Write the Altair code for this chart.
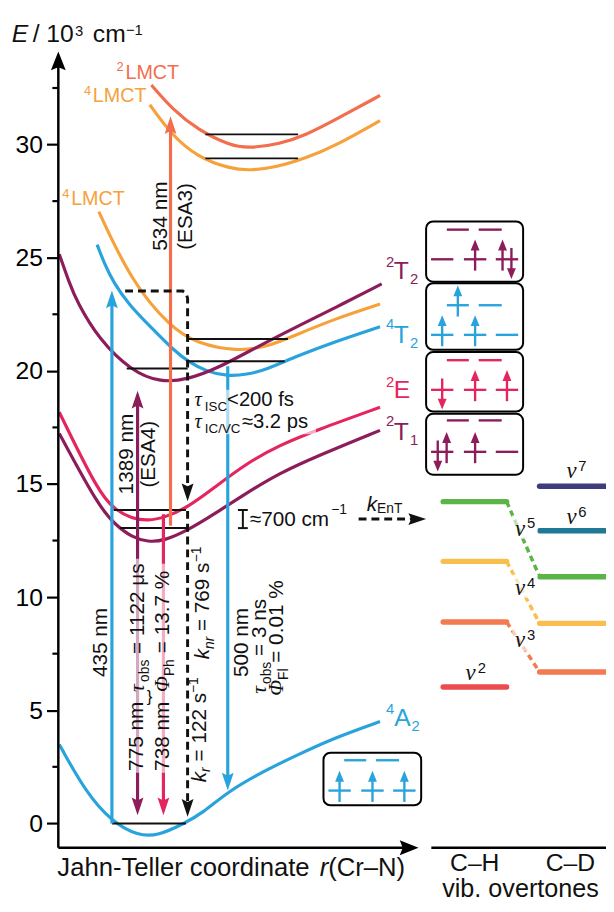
import altair as alt
import pandas as pd

# ------------------------------------------------------------------ colours
C_BLUE, C_PURP, C_PINK, C_ORNG, C_SALM = "#29A3DC", "#8C1C5A", "#E5255D", "#F6A13B", "#F26E4C"
BLK = "#111111"

# ------------------------------------------------------------------ potential-energy curves
# Jahn-Teller coordinate r (arbitrary units) and energy E (10^3 cm^-1)
r_2LMCT = [153.3, 176.7, 200, 233.3, 253.3, 283.3, 310, 340, 385]
E_2LMCT = [32.63, 31.47, 30.67, 29.94, 29.84, 30.02, 30.42, 31.10, 32.17]
r_4LMCT_hi = [151.7, 173.3, 200, 233.3, 253.3, 280, 310, 340, 385]
E_4LMCT_hi = [31.76, 30.45, 29.44, 28.93, 28.85, 29.00, 29.40, 29.95, 31.06]
r_4LMCT_lo = [100, 133.3, 173.3, 200, 240, 270, 300, 340, 385]
E_4LMCT_lo = [27.04, 23.92, 21.90, 21.20, 20.86, 21.05, 21.59, 22.31, 22.95]
r_4T2 = [98.3, 106, 115, 130, 153.3, 175, 190, 210, 230, 250, 270, 300, 340, 385]
E_4T2 = [25.58, 24.70, 23.90, 22.95, 21.90, 20.95, 20.42, 19.95, 19.77, 19.83, 20.06, 20.64, 21.30, 21.95]
r_2T2 = [60, 70, 78, 100, 133, 163, 190, 220, 260, 300, 340, 386.7]
E_2T2 = [25.15, 23.90, 23.04, 21.40, 19.99, 19.48, 19.62, 20.10, 21.05, 21.94, 22.80, 23.84]
r_2E = [60, 100, 116.7, 133.3, 150, 166.7, 190, 216.7, 250, 283.3, 320, 385]
E_2E = [18.17, 14.60, 13.85, 13.48, 13.37, 13.52, 13.96, 14.83, 15.92, 16.72, 17.37, 18.39]
r_2T1 = [60, 100, 116.7, 133.3, 150, 166.7, 190, 216.7, 250, 283.3, 320, 385]
E_2T1 = [17.23, 14.00, 13.20, 12.65, 12.43, 12.50, 12.95, 13.66, 14.61, 15.48, 16.21, 17.37]
r_4A2 = [60, 86.7, 113.3, 140, 160, 186.7, 205, 230, 266.7, 300, 340, 385]
E_4A2 = [3.49, 1.38, 0.07, -0.55, -0.55, 0.00, 0.45, 1.38, 2.30, 3.00, 3.80, 4.50]

curves = [("2LMCT", r_2LMCT, E_2LMCT, C_SALM), ("4LMCT_hi", r_4LMCT_hi, E_4LMCT_hi, C_ORNG),
          ("4LMCT_lo", r_4LMCT_lo, E_4LMCT_lo, C_ORNG), ("4T2", r_4T2, E_4T2, C_BLUE),
          ("2T2", r_2T2, E_2T2, C_PURP), ("2E", r_2E, E_2E, C_PINK),
          ("2T1", r_2T1, E_2T1, C_PURP), ("4A2", r_4A2, E_4A2, C_BLUE)]

# ------------------------------------------------------------------ vibrational levels
lvl_E = [30.45, 29.39, 21.41, 20.42, 20.10, 13.85, 13.05, 0.00]
lvl_r0 = [208, 208, 190, 190, 128.3, 115, 121.7, 113.3]
lvl_r1 = [302, 302, 291.7, 288.3, 190, 188.3, 190, 188.3]

# ------------------------------------------------------------------ transitions
tr_r = [113.3, 139.3, 172.7, 139.3, 165.5, 230.7]      # 435, 1389, 534, 775, 738, 500 nm
tr_E0 = [0.00, 13.05, 13.15, 13.05, 13.66, 20.20]
tr_E1 = [23.55, 19.12, 31.25, 0.36, 0.36, 1.45]
tr_col = [C_BLUE, C_PURP, C_SALM, C_PURP, C_PINK, C_BLUE]

isc_r = [126.7, 185.0, 188.6, 190.0, 190.0]            # ISC / IC path (dashed)
isc_E = [23.53, 23.53, 23.42, 23.20, 14.24]
nr_r, nr_E0, nr_E1 = 190.0, 13.81, 0.29                # k_r / k_nr (dashed)
ent_r0, ent_r1, ent_E = 363.3, 431.7, 13.45            # k_EnT (dashed)
gap_r, gap_E0, gap_E1 = 246.0, 13.85, 13.05            # ~700 cm-1 bracket

# ------------------------------------------------------------------ vibrational overtones
ov_n = [2, 3, 4, 5, 6, 7]
ov_CH = [6.03, 8.90, 11.58, 14.22, None, None]
ov_CD = [None, 6.69, 8.84, 10.90, 12.93, 14.90]
ov_col = ["#EC4C4E", "#F27B4F", "#F8BF4F", "#5BB447", "#1F7896", "#3E3C7B"]
CH_r = (449.0, 513.3)
CD_r = (546.7, 613.3)

# ------------------------------------------------------------------ electron configurations
box_col = [C_PURP, C_BLUE, C_PINK, C_PURP, C_BLUE]         # 2T2, 4T2, 2E, 2T1, 4A2
eg_cfg = [["", ""], ["u", ""], ["", ""], ["", ""], ["", ""]]
t2g_cfg = [["", "u", "ud"], ["u", "u", ""], ["d", "u", "u"], ["du", "u", ""], ["u", "u", "u"]]

y_ticks = [0, 5, 10, 15, 20, 25, 30]
y_minor = [2.5, 7.5, 12.5, 17.5, 22.5, 27.5, 32.5]

# ------------------------------------------------------------------ layout
E_LO, E_HI = -1.077, 35.774
R_LO, R_HI = 59.0, 614.0
H = 845
PX = (E_HI - E_LO) / H          # energy units per pixel (small glyph offsets)

box_left = [431.7, 431.7, 431.7, 431.7, 327.7]
box_w = [98.3, 98.3, 98.3, 98.3, 99.0]
box_top = [26.60, 23.87, 20.83, 18.10, 3.12]
box_bot = [23.94, 20.93, 18.20, 15.41, 0.80]
eg_E = [26.24, 22.90, 20.47, 17.81, 2.79]
t2g_E = [24.93, 21.59, 19.16, 16.42, 1.45]
EG_SEG = [(21.0, 43.3), (53.3, 76.6)]
T2G_SEG = [(5.0, 27.6), (38.3, 61.0), (70.6, 93.3)]

XS = alt.Scale(domain=[R_LO, R_HI], nice=False, zero=False)
YS = alt.Scale(domain=[E_LO, E_HI], nice=False, zero=False)
YAX = alt.Axis(values=y_ticks, domain=False, grid=False, tickSize=12, tickWidth=2.2,
               tickColor="black", labelFont="Liberation Sans", labelFontSize=25,
               labelColor="black", labelPadding=4, title=None)


def enc(ch, r="r", E="E", r2=None, E2=None, **kw):
    e = dict(x=alt.X(f"{r}:Q", scale=XS, axis=None), y=alt.Y(f"{E}:Q", scale=YS, axis=YAX))
    if r2:
        e["x2"] = alt.X2(r2)
    if E2:
        e["y2"] = alt.Y2(E2)
    e.update(kw)
    return ch.encode(**e)


COL = alt.Color("c:N", scale=None)
HEAD_UP = "M0,0L6,18L0,15L-6,18Z"
HEAD_DN = "M0,0L6,-18L0,-15L-6,-18Z"
HEAD_RT = "M0,0L-18,6L-15,0L-18,-6Z"
EL_UP = "M0,0L4.5,11L-4.5,11Z"
EL_DN = "M0,0L4.5,-11L-4.5,-11Z"
AX_UP = "M0,0L7.5,19L0,16L-7.5,19Z"
AX_RT = "M0,0L-19,7.5L-16,0L-19,-7.5Z"


def heads(df, shape):
    return enc(alt.Chart(df).mark_point(shape=shape, size=4, filled=True, opacity=1, strokeWidth=0), color=COL)


layers = []

# curves
crow = []
for name, rr, ee, col in curves:
    for i, (a, b) in enumerate(zip(rr, ee)):
        crow.append(dict(curve=name, r=a, E=b, c=col, i=i))
layers.append(enc(alt.Chart(pd.DataFrame(crow)).mark_line(strokeWidth=3.2, interpolate="basis"),
                  color=COL, detail="curve:N", order="i:Q"))

# vibrational levels
lv = pd.DataFrame(dict(r0=lvl_r0, r1=lvl_r1, E=lvl_E))
layers.append(enc(alt.Chart(lv).mark_rule(strokeWidth=2, color=BLK), r="r0", r2="r1"))

# axes (lines, minor ticks, arrowheads)
axl = pd.DataFrame([dict(r0=R_LO, r1=R_LO, E0=E_LO, E1=34.117 - 14 * PX),
                    dict(r0=R_LO, r1=424 - 14, E0=E_LO, E1=E_LO),
                    dict(r0=437, r1=R_HI, E0=E_LO, E1=E_LO)])
layers.append(enc(alt.Chart(axl).mark_rule(strokeWidth=2.5, color="black"), r="r0", r2="r1", E="E0", E2="E1"))
mt = pd.DataFrame(dict(r0=[R_LO - 6] * len(y_minor), r1=[R_LO] * len(y_minor), E=y_minor))
layers.append(enc(alt.Chart(mt).mark_rule(strokeWidth=2.2, color="black"), r="r0", r2="r1"))
layers.append(heads(pd.DataFrame([dict(r=R_LO, E=34.117, c="black")]), AX_UP))
layers.append(heads(pd.DataFrame([dict(r=424, E=E_LO, c="black")]), AX_RT))

# solid transition arrows
trl, tup, tdn = [], [], []
for r, e0, e1, c in zip(tr_r, tr_E0, tr_E1, tr_col):
    up = e1 > e0
    trl.append(dict(r=r, E0=e0, E1=e1 - 14 * PX if up else e1 + 14 * PX, c=c))
    (tup if up else tdn).append(dict(r=r, E=e1, c=c))
layers.append(enc(alt.Chart(pd.DataFrame(trl)).mark_rule(strokeWidth=3.2), E="E0", E2="E1", color=COL))

# dashed non-radiative arrows
isc = pd.DataFrame(dict(r=isc_r, E=isc_E[:-1] + [isc_E[-1] + 14 * PX], i=list(range(len(isc_r)))))
layers.append(enc(alt.Chart(isc).mark_line(strokeWidth=3, strokeDash=[8, 5], color=BLK), order="i:Q"))
tdn.append(dict(r=isc_r[-1], E=isc_E[-1], c=BLK))
dsh = pd.DataFrame([dict(r0=nr_r, r1=nr_r, E0=nr_E0, E1=nr_E1 + 14 * PX),
                    dict(r0=ent_r0, r1=ent_r1 - 14, E0=ent_E, E1=ent_E)])
layers.append(enc(alt.Chart(dsh).mark_rule(strokeWidth=3, strokeDash=[8, 5], color=BLK),
                  r="r0", r2="r1", E="E0", E2="E1"))
tdn.append(dict(r=nr_r, E=nr_E1, c=BLK))
layers.append(heads(pd.DataFrame(tup), HEAD_UP))
layers.append(heads(pd.DataFrame(tdn), HEAD_DN))
layers.append(heads(pd.DataFrame([dict(r=ent_r1, E=ent_E, c=BLK)]), HEAD_RT))

# ~700 cm-1 bracket
br = pd.DataFrame([dict(r0=gap_r, r1=gap_r, E0=gap_E0, E1=gap_E1),
                   dict(r0=gap_r - 5, r1=gap_r + 5, E0=gap_E0, E1=gap_E0),
                   dict(r0=gap_r - 5, r1=gap_r + 5, E0=gap_E1, E1=gap_E1)])
layers.append(enc(alt.Chart(br).mark_rule(strokeWidth=2, color=BLK), r="r0", r2="r1", E="E0", E2="E1"))

# electron-configuration boxes
bx = pd.DataFrame(dict(r0=box_left, r1=[a + b for a, b in zip(box_left, box_w)], E0=box_top, E1=box_bot))
layers.append(enc(alt.Chart(bx).mark_rect(cornerRadius=7, fill="white", stroke="black", strokeWidth=2),
                  r="r0", r2="r1", E="E0", E2="E1"))
orb, ell, eup, edn = [], [], [], []


def electrons(xc, El, cfg, col):
    offs = [0.0] if len(cfg) == 1 else [-4.5, 4.5]
    for ch, o in zip(cfg, offs):
        if ch == "u":
            tip = El + 20 * PX
            ell.append(dict(r=xc + o, E0=El - 11.5 * PX, E1=tip - 6 * PX, c=col))
            eup.append(dict(r=xc + o, E=tip, c=col))
        else:
            tip = El - 20 * PX
            ell.append(dict(r=xc + o, E0=El + 11.5 * PX, E1=tip + 6 * PX, c=col))
            edn.append(dict(r=xc + o, E=tip, c=col))


for k in range(5):
    L, col = box_left[k], box_col[k]
    for (a, b), cfg in zip(EG_SEG, eg_cfg[k]):
        orb.append(dict(r0=L + a, r1=L + b, E=eg_E[k], c=col))
        if cfg:
            electrons(L + (a + b) / 2, eg_E[k], cfg, col)
    for (a, b), cfg in zip(T2G_SEG, t2g_cfg[k]):
        orb.append(dict(r0=L + a, r1=L + b, E=t2g_E[k], c=col))
        if cfg:
            electrons(L + (a + b) / 2, t2g_E[k], cfg, col)
layers.append(enc(alt.Chart(pd.DataFrame(orb)).mark_rule(strokeWidth=2.4), r="r0", r2="r1", color=COL))
layers.append(enc(alt.Chart(pd.DataFrame(ell)).mark_rule(strokeWidth=2.4), E="E0", E2="E1", color=COL))
layers.append(heads(pd.DataFrame(eup), EL_UP))
layers.append(heads(pd.DataFrame(edn), EL_DN))

# overtone bars and dashed connectors
bars, conn = [], []
for n, ch, cd, col in zip(ov_n, ov_CH, ov_CD, ov_col):
    if ch is not None:
        bars.append(dict(r0=CH_r[0], r1=CH_r[1], E=ch, c=col))
    if cd is not None:
        bars.append(dict(r0=CD_r[0], r1=CD_r[1], E=cd, c=col))
    if ch is not None and cd is not None:
        conn.append(dict(r0=CH_r[1], r1=CD_r[0], E0=ch, E1=cd, c=col))
layers.append(enc(alt.Chart(pd.DataFrame(conn)).mark_rule(strokeWidth=3.5, strokeDash=[6, 4]),
                  r="r0", r2="r1", E="E0", E2="E1", color=COL))
layers.append(enc(alt.Chart(pd.DataFrame(bars)).mark_rule(strokeWidth=5.5, strokeCap="round"),
                  r="r0", r2="r1", color=COL))

# semi-transparent text backgrounds
bg = pd.DataFrame([dict(r0=131, r1=149.5, E0=11.70, E1=2.24), dict(r0=157, r1=176.5, E0=11.48, E1=2.24),
                   dict(r0=195, r1=320, E0=19.16, E1=17.20), dict(r0=519, r1=545, E0=13.62, E1=12.57),
                   dict(r0=519, r1=545, E0=11.00, E1=9.96), dict(r0=519, r1=545, E0=8.65, E1=7.60)])
layers.append(enc(alt.Chart(bg).mark_rect(fill="white", opacity=0.62), r="r0", r2="r1", E="E0", E2="E1"))

# ------------------------------------------------------------------ text fragments
# (r, E, text, size, colour, font, angle)  -- anchored left / alphabetic baseline
T = [
    (11.7, 34.52, "E", 25, BLK, "sansI", 0), (33.0, 34.52, "/ 10", 25, BLK, "sans", 0),
    (76.0, 34.82, "3", 15, BLK, "sans", 0), (94.0, 34.52, "cm", 25, BLK, "sans", 0),
    (127.5, 34.86, "−1", 15, BLK, "sans", 0),
    # state labels
    (118, 33.23, "2", 13, C_SALM, "sans", 0), (127, 32.90, "LMCT", 20, C_SALM, "sans", 0),
    (85, 32.21, "4", 13, C_ORNG, "sans", 0), (94, 31.88, "LMCT", 20, C_ORNG, "sans", 0),
    (63, 27.65, "4", 13, C_ORNG, "sans", 0), (72, 27.33, "LMCT", 20, C_ORNG, "sans", 0),
    (391, 24.61, "2", 15, C_PURP, "sans", 0), (399, 24.06, "T", 25, C_PURP, "sans", 0),
    (415.5, 23.83, "2", 15, C_PURP, "sans", 0),
    (391, 21.84, "4", 15, C_BLUE, "sans", 0), (399, 21.22, "T", 25, C_BLUE, "sans", 0),
    (415.5, 20.99, "2", 15, C_BLUE, "sans", 0),
    (391, 19.30, "2", 15, C_PINK, "sans", 0), (399, 18.82, "E", 25, C_PINK, "sans", 0),
    (391, 17.56, "2", 15, C_PURP, "sans", 0), (399, 16.93, "T", 25, C_PURP, "sans", 0),
    (415.5, 16.72, "1", 15, C_PURP, "sans", 0),
    (391, 4.84, "4", 15, C_BLUE, "sans", 0), (399.5, 4.29, "A", 25, C_BLUE, "sans", 0),
    (417, 4.07, "2", 15, C_BLUE, "sans", 0),
    # rotated annotations
    (108.5, 6.47, "435 nm", 21, BLK, "sans", 270),
    (135, 14.54, "1389 nm", 21, BLK, "sans", 270), (157, 14.84, "(ESA4)", 21, BLK, "sans", 270),
    (169, 25.31, "534 nm", 21, BLK, "sans", 270), (194, 25.35, "(ESA3)", 21, BLK, "sans", 270),
    (145, 2.32, "775 nm", 21, BLK, "sans", 270), (171.5, 2.32, "738 nm", 21, BLK, "sans", 270),
    (145.5, 5.81, "τ", 22, BLK, "serifI", 270), (150.5, 6.25, "obs", 14, BLK, "sans", 270),
    (145.5, 7.49, "= 1122 μs", 21, BLK, "sans", 270),
    (171.5, 5.81, "Φ", 21, BLK, "serifI", 270), (176.5, 6.51, "Ph", 14, BLK, "sans", 270),
    (171.5, 7.52, "= 13.7 %", 21, BLK, "sans", 270),
    (148.5, 5.37, "}", 17, BLK, "sans", 0),
    (208.5, 1.82, "k", 21, BLK, "sansI", 270), (213.0, 2.27, "r", 14, BLK, "sansI", 270),
    (208.5, 2.74, "= 122 s", 21, BLK, "sans", 270), (200.5, 5.76, "−1", 14, BLK, "sans", 270),
    (212.0, 7.25, "k", 21, BLK, "sansI", 270), (216.5, 7.71, "nr", 14, BLK, "sansI", 270),
    (212.0, 8.50, "= 769 s", 21, BLK, "sans", 270), (204.0, 11.54, "−1", 14, BLK, "sans", 270),
    (251, 6.47, "500 nm", 21, BLK, "sans", 270),
    (269.5, 5.73, "τ", 22, BLK, "serifI", 270), (274.5, 6.16, "obs", 14, BLK, "sans", 270),
    (269.5, 7.40, "= 3 ns", 21, BLK, "sans", 270),
    (286.5, 5.64, "Φ", 21, BLK, "serifI", 270), (291.5, 6.34, "Fl", 14, BLK, "sans", 270),
    (286.5, 7.10, "= 0.01 %", 21, BLK, "sans", 270),
    # horizontal annotations
    (197, 18.44, "τ", 20.5, BLK, "serifI", 0), (207.5, 18.22, "ISC", 13.5, BLK, "sans", 0),
    (230, 18.44, "<200 fs", 20.5, BLK, "sans", 0),
    (197, 17.46, "τ", 20.5, BLK, "serifI", 0), (207.5, 17.25, "IC/VC", 13.5, BLK, "sans", 0),
    (245, 17.46, "≈3.2 ps", 20.5, BLK, "sans", 0),
    (253, 13.15, "≈700 cm", 21, BLK, "sans", 0), (335.5, 13.66, "−1", 14, BLK, "sans", 0),
    (371.5, 13.81, "k", 21, BLK, "sansI", 0), (382, 13.71, "EnT", 14, BLK, "sans", 0),
    # bottom titles
    (58, -2.34, "Jahn-Teller coordinate", 26, BLK, "sans", 0), (323.8, -2.34, "r", 26, BLK, "sansI", 0),
    (332.5, -2.34, "(Cr–N)", 26, BLK, "sans", 0),
    (456, -2.12, "C–H", 25, BLK, "sans", 0), (553, -2.12, "C–D", 25, BLK, "sans", 0),
    (448, -3.24, "vib. overtones", 25.5, BLK, "sans", 0),
    # overtone labels
    (574, 15.26, "ν", 23, BLK, "serifI", 0), (586, 15.58, "7", 15, BLK, "sans", 0),
    (574, 13.23, "ν", 23, BLK, "serifI", 0), (586, 13.55, "6", 15, BLK, "sans", 0),
    (521.7, 12.72, "ν", 23, BLK, "serifI", 0), (534, 13.04, "5", 15, BLK, "sans", 0),
    (521.7, 10.10, "ν", 23, BLK, "serifI", 0), (534, 10.42, "4", 15, BLK, "sans", 0),
    (521.7, 7.78, "ν", 23, BLK, "serifI", 0), (534, 8.10, "3", 15, BLK, "sans", 0),
    (471.7, 6.32, "ν", 23, BLK, "serifI", 0), (484, 6.64, "2", 15, BLK, "sans", 0),
]
tdf = pd.DataFrame(T, columns=["r", "E", "t", "s", "c", "f", "a"])
FONTS = {"sans": ("Liberation Sans", "normal"), "sansI": ("Liberation Sans", "italic"),
         "serifI": ("Liberation Serif", "italic")}
for key, (font, style) in FONTS.items():
    sub = tdf[tdf.f == key]
    layers.append(enc(alt.Chart(sub).mark_text(align="left", baseline="alphabetic", font=font, fontStyle=style),
                      text="t:N", size=alt.Size("s:Q", scale=None), color=COL,
                      angle=alt.Angle("a:Q", scale=None)))

chart = alt.layer(*layers).properties(
    width=555, height=H, background="white",
    padding={"left": 51, "top": 0, "right": 0, "bottom": 51},
    autosize=alt.AutoSizeParams(type="none"),
).configure_view(stroke=None)

chart.save("out.html", embed_options={"renderer": "svg", "actions": False})
